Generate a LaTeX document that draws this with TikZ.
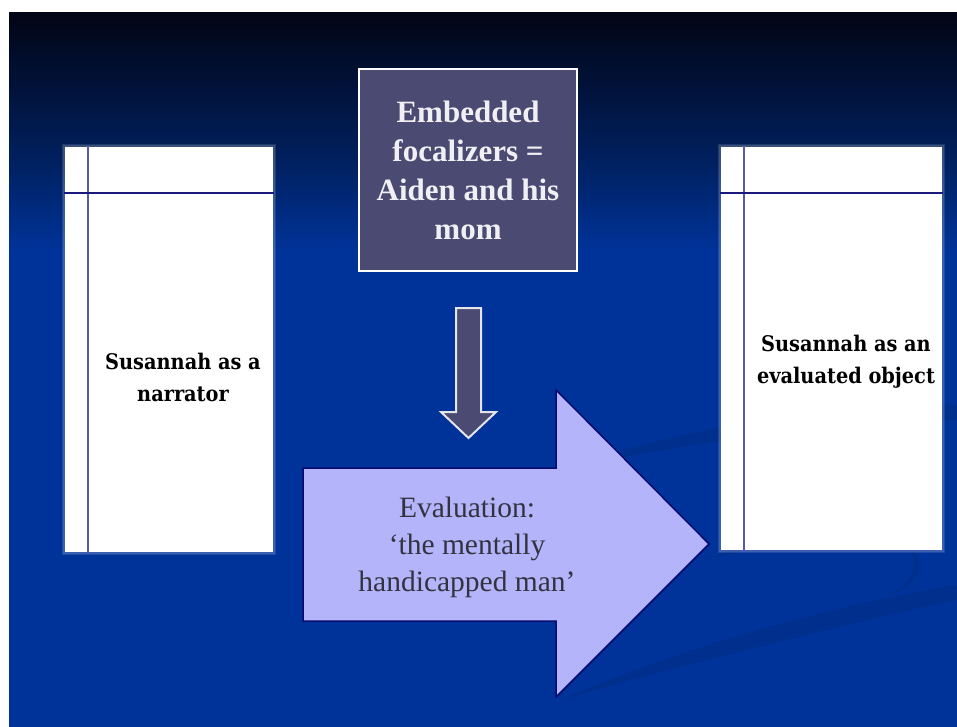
\documentclass[tikz,border=0pt]{standalone}
\usepackage{fontspec}
\setmainfont{Liberation Serif}
\newfontfamily\boxfont{DejaVu Serif Condensed}
\definecolor{bgblue}{HTML}{003399}
\definecolor{bgtop}{HTML}{020515}
\definecolor{bgmid}{HTML}{00205E}
\definecolor{swoosh}{HTML}{002C84}
\definecolor{slate}{HTML}{4A4A72}
\definecolor{lilac}{HTML}{B4B4FA}
\definecolor{navyline}{HTML}{0A0A70}
\definecolor{ruleline}{HTML}{5A5AAA}
\definecolor{evaltext}{HTML}{333340}
\tikzset{
  glow/.style={fill=white, opacity=0.12},
  panel/.style={fill=white, draw=none},
  panelrule/.style={draw=ruleline, line width=1.6pt},
  paneltext/.style={font=\boxfont\bfseries\fontsize{21.5}{32}\selectfont, text=black, align=center},
  topbox/.style={fill=slate, draw=white, line width=2pt},
  toptext/.style={font=\bfseries\fontsize{31}{39}\selectfont, text=white!92!slate, align=center},
  downarrow/.style={fill=slate, draw=white!85!slate, line width=2pt, line join=miter},
  bigarrow/.style={fill=lilac, draw=navyline, line width=1.5pt, line join=miter},
  evalstyle/.style={font=\fontsize{29.5}{37}\selectfont, text=evaltext, align=center}
}
\begin{document}
\begin{tikzpicture}[x=1pt,y=-1pt]
\useasboundingbox (0,0) rectangle (957,727);
\fill[white] (0,0) rectangle (957,727);
% background
\fill[bgblue] (9,250) rectangle (957,727);
\shade[top color=bgtop, bottom color=bgmid] (9,13) rectangle (957,160);
\shade[top color=bgmid, bottom color=bgblue] (9,159) rectangle (957,251);
% swooshes
\begin{scope}[opacity=0.55]
\fill[swoosh] (560,470) .. controls (700,420) and (880,400) .. (957,405) -- (957,420) .. controls (860,420) and (700,440) .. (560,470) -- cycle;
\fill[swoosh] (560,700) .. controls (700,640) and (860,600) .. (957,585) -- (957,600) .. controls (860,620) and (700,660) .. (560,700) -- cycle;
\fill[swoosh] (700,560) .. controls (760,545) and (790,520) .. (760,505) .. controls (790,525) and (770,550) .. (700,560) -- cycle;
\fill[swoosh] (880,600) .. controls (920,585) and (935,560) .. (900,540) .. controls (925,560) and (915,585) .. (880,600) -- cycle;
\end{scope}
% left panel
\fill[glow] (62,144) rectangle (276,555);
\fill[glow] (63,145) rectangle (275,554);
\node[panel, minimum width=208pt, minimum height=405pt, inner sep=0pt] (left) at (169,349.5) {};
\draw[panelrule] (88,146) -- (88,553);
\draw[panelrule, draw=navyline!80!ruleline] (64,193) -- (274,193);
\node[paneltext] (lefttext) at (183,377) {Susannah as a\\narrator};
% right panel
\fill[glow] (718,144) rectangle (945,553);
\fill[glow] (719,145) rectangle (944,552);
\node[panel, minimum width=221pt, minimum height=403pt, inner sep=0pt] (right) at (831.5,348.5) {};
\draw[panelrule] (744,146) -- (744,551);
\draw[panelrule, draw=navyline!80!ruleline] (720,193) -- (943,193);
\node[paneltext] (righttext) at (846,362) {Susannah as an\\evaluated object};
% top box
\node[topbox, minimum width=218pt, minimum height=202pt, inner sep=0pt] (focal) at (468,170) {};
\node[toptext] (focaltext) at (468,170) {Embedded\\focalizers =\\Aiden and his\\mom};
% down arrow
\draw[downarrow] (456,308) -- (481,308) -- (481,412) -- (496,412) -- (468.5,438) -- (441,412) -- (456,412) -- cycle;
\coordinate (downtip) at (468.5,438);
% big arrow
\draw[bigarrow] (303,468) -- (556,468) -- (556,390) -- (709,544) -- (556,697) -- (556,621) -- (303,621) -- cycle;
\coordinate (bigtip) at (709,544);
\node[evalstyle] (evaltxt) at (467,547) {Evaluation:\\‘the mentally\\handicapped man’};
\end{tikzpicture}
\end{document}
